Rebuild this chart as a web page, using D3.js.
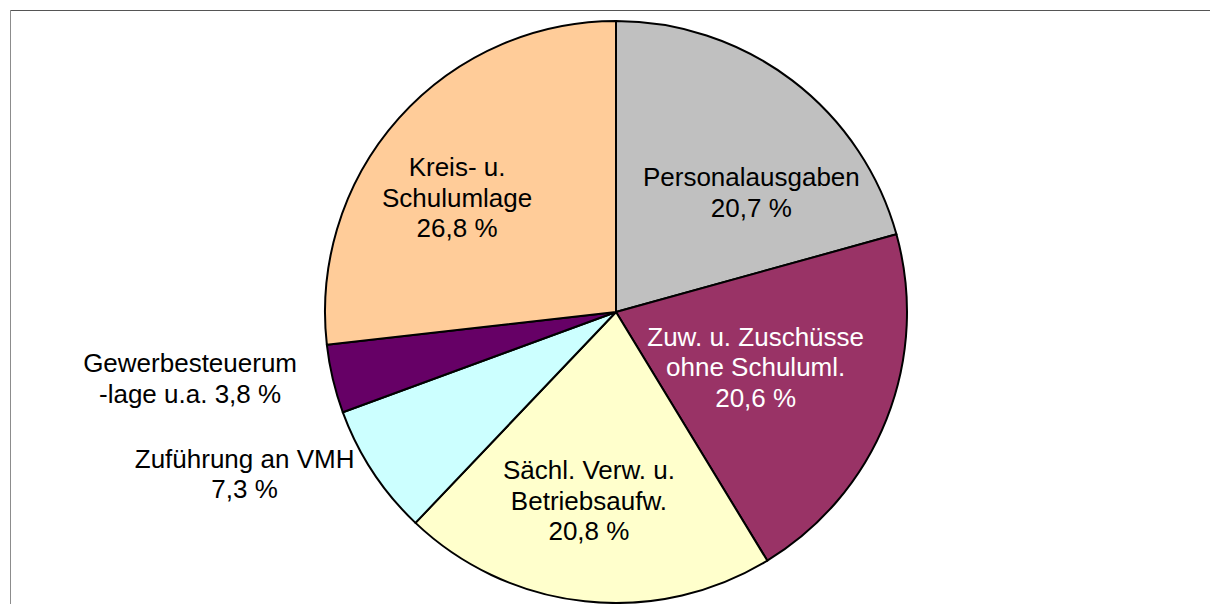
<!DOCTYPE html>
<html>
<head>
<meta charset="utf-8">
<script src="https://cdn.jsdelivr.net/npm/d3@7"></script>
<style>
	html, body { margin: 0; padding: 0; background: #fff; }
	svg { display: block; }
	text { font-family: "Liberation Sans", Arial, sans-serif; font-size: 26px; }
</style>
</head>
<body>
<div id="wrapper"></div>
<script>
var width = 1210;
var height = 604;

// data, clockwise from 12 o'clock
var categories = ["Personalausgaben", "Zuw. u. Zuschüsse ohne Schuluml.", "Sächl. Verw. u. Betriebsaufw.",
	"Zuführung an VMH", "Gewerbesteuerumlage u.a.", "Kreis- u. Schulumlage"];
var shares = [20.7, 20.6, 20.8, 7.3, 3.8, 26.8];
var labelLines = [
	["Personalausgaben", "20,7 %"],
	["Zuw. u. Zuschüsse", "ohne Schuluml.", "20,6 %"],
	["Sächl. Verw. u.", "Betriebsaufw.", "20,8 %"],
	["Zuführung an VMH", "7,3 %"],
	["Gewerbesteuerum", "-lage u.a. 3,8 %"],
	["Kreis- u.", "Schulumlage", "26,8 %"]
];
var colors = ["#c0c0c0", "#993366", "#ffffcc", "#ccffff", "#660066", "#ffcc99"];
var textColors = ["#000", "#fff", "#000", "#000", "#000", "#000"];
// label placement: [angle in degrees from 12 o'clock, distance from centre]
var labelPolar = [[48.4, 181], [111.4, 150], [188.2, 190], [246.5, 405], [261.2, 431], [305.8, 196]];

var cx = 616, cy = 312, radius = 291;
var lineHeight = 30.5;

var svg = d3.select("#wrapper").append("svg")
	.attr("width", width)
	.attr("height", height);

// chart frame
svg.append("line")
	.attr("x1", 10).attr("y1", 10.5).attr("x2", width).attr("y2", 10.5)
	.attr("stroke", "#555").attr("stroke-width", 1);
svg.append("line")
	.attr("x1", 10.5).attr("y1", 10).attr("x2", 10.5).attr("y2", height)
	.attr("stroke", "#8c8c8c").attr("stroke-width", 1);

var pie = d3.pie().sort(null).value(function(d){ return d; });
var arc = d3.arc().innerRadius(0).outerRadius(radius);

var g = svg.append("g").attr("transform", "translate(" + cx + "," + cy + ")");

g.selectAll("path.slice")
	.data(pie(shares))
	.enter().append("path")
	.attr("class", "slice")
	.attr("d", arc)
	.attr("fill", function(d, i){ return colors[i]; })
	.attr("stroke", "#000")
	.attr("stroke-width", 2)
	.attr("stroke-linejoin", "round");

labelLines.forEach(function(lines, i){
	var a = labelPolar[i][0] * Math.PI / 180;
	var r = labelPolar[i][1];
	var x = r * Math.sin(a);
	var y = -r * Math.cos(a);
	var n = lines.length;
	var t = g.append("text")
		.attr("text-anchor", "middle")
		.attr("fill", textColors[i]);
	lines.forEach(function(line, j){
		t.append("tspan")
			.attr("x", x)
			.attr("y", y + (j - (n - 1) / 2) * lineHeight + 9.5)
			.text(line);
	});
});
</script>
</body>
</html>
